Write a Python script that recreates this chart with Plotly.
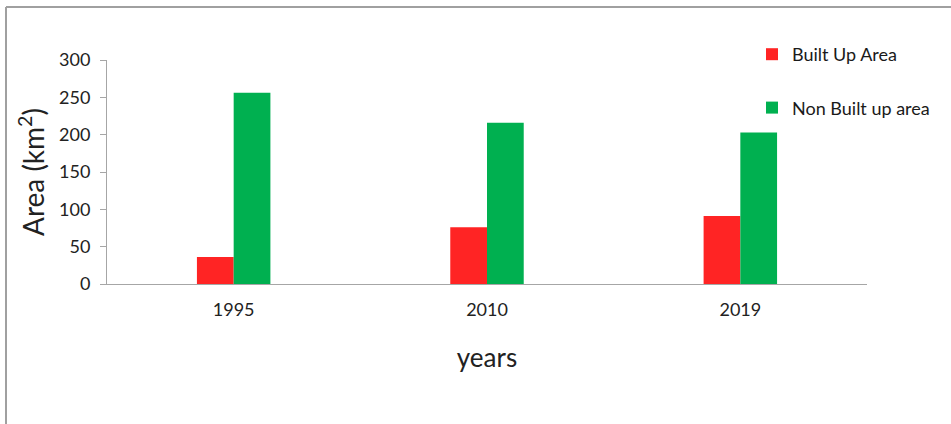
import plotly.graph_objects as go

years = ["1995", "2010", "2019"]
built_up = [36, 76, 91]
non_built_up = [256, 216, 203]

FONT = "Lato"

fig = go.Figure()
fig.add_trace(go.Bar(x=years, y=built_up, name="Built Up Area",
                     marker=dict(color="#FF2424", line=dict(width=0)),
                     legendgroup="a"))
fig.add_trace(go.Bar(x=years, y=non_built_up, name="Non Built up area",
                     marker=dict(color="#00B050", line=dict(width=0)),
                     legendgroup="b"))

# plot area: x 107..867, y 60..284 in a 951x424 page
L, R, T, B = 107, 84, 60, 140
W, H = 951 - L - R, 424 - T - B

def px_x(p):
    return (p - L) / W

def px_y(p):
    return (424 - B - p) / H

fig.update_layout(
    width=951, height=424,
    margin=dict(l=L, r=R, t=T, b=B, autoexpand=False),
    paper_bgcolor="white", plot_bgcolor="white",
    barmode="group", bargap=0.71, bargroupgap=0,
    font=dict(family=FONT, color="#222222"),
    showlegend=True,
    legend=dict(x=px_x(752), y=px_y(36), xanchor="left", yanchor="top",
                font=dict(size=18, family=FONT, color="#1a1a1a"),
                traceorder="grouped", tracegroupgap=27,
                itemwidth=30, bgcolor="rgba(0,0,0,0)"),
    xaxis=dict(showline=True, linecolor="#A6A6A6", linewidth=1,
               ticks="", tickfont=dict(size=18, family=FONT, color="#222222"),
               ticklabelstandoff=9,
               title=dict(text="years", font=dict(size=26, family=FONT, color="#222222"),
                          standoff=30),
               showgrid=False),
    yaxis=dict(range=[0, 300], dtick=50, showline=True, linecolor="#A6A6A6",
               linewidth=1, ticks="outside", ticklen=6, tickcolor="#A6A6A6",
               ticklabelstandoff=6,
               tickfont=dict(size=18, family=FONT, color="#222222"),
               title=dict(text="Area (km<sup>2</sup>)",
                          font=dict(size=28, family=FONT, color="#222222"),
                          standoff=6),
               showgrid=False, zeroline=False),
    shapes=[
        dict(type="line", xref="paper", yref="paper",
             x0=px_x(6), x1=px_x(6), y0=px_y(7), y1=px_y(424),
             line=dict(color="#A0A0A0", width=2)),
        dict(type="line", xref="paper", yref="paper",
             x0=px_x(6), x1=px_x(951), y0=px_y(7), y1=px_y(7),
             line=dict(color="#A0A0A0", width=2)),
    ],
)

fig.write_html("out.html")
